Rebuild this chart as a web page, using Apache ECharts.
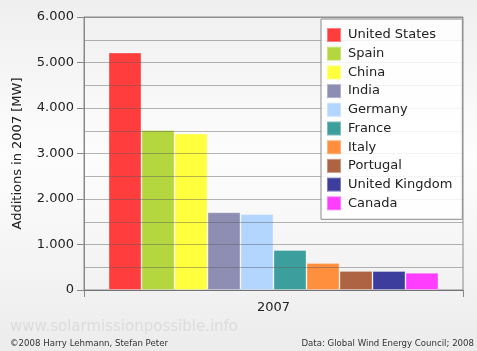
<!DOCTYPE html>
<html>
<head>
<meta charset="utf-8">
<script src="https://cdn.jsdelivr.net/npm/echarts@6/dist/echarts.min.js"></script>
<style>
html, body { margin: 0; padding: 0; }
#chart { width: 477px; height: 351px; }
</style>
</head>
<body>
<div id="chart"></div>
<script>
var years = ['2007'];
var countries = ['United States', 'Spain', 'China', 'India', 'Germany', 'France', 'Italy', 'Portugal', 'United Kingdom', 'Canada'];
var additions = [5220, 3515, 3440, 1710, 1670, 880, 595, 420, 418, 380];
var palette = ['#ff3333', '#b0d434', '#ffff33', '#8888b0', '#aed4ff', '#339999', '#ff8833', '#aa5c38', '#333399', '#ff33ff'];

var font = 'DejaVu Sans';
var chart = echarts.init(document.getElementById('chart'));

var series = [];
for (var i = 0; i < countries.length; i++) {
	series.push({
		name: countries[i],
		type: 'bar',
		barWidth: 33,
		barGap: '0%',
		itemStyle: {
			color: palette[i],
			opacity: 0.95,
			borderColor: 'rgba(255,255,255,0.35)',
			borderWidth: 1
		},
		data: [additions[i]]
	});
}

chart.setOption({
	animation: false,
	backgroundColor: {
		type: 'linear', x: 0, y: 0, x2: 0, y2: 1,
		colorStops: [
			{offset: 0, color: '#efefef'},
			{offset: 0.45, color: '#fdfdfd'},
			{offset: 1, color: '#ececec'}
		]
	},
	textStyle: {fontFamily: font},
	grid: {
		left: 84, right: 14, top: 17, bottom: 61,
		show: true,
		borderColor: '#8a8a8a',
		borderWidth: 1,
		backgroundColor: 'transparent'
	},
	legend: {
		orient: 'vertical',
		left: 321, top: 19,
		padding: [8, 10, 8, 5],
		itemWidth: 14, itemHeight: 14,
		itemGap: 2.7,
		backgroundColor: 'rgba(255,255,255,0.85)',
		borderColor: '#8a8a8a',
		borderWidth: 1,
		borderRadius: 0,
		icon: 'rect',
		textStyle: {fontFamily: font, fontSize: 13, color: '#222', padding: [0, 0, 0, 2]},
		data: countries
	},
	xAxis: {
		type: 'category',
		data: years,
		axisLine: {lineStyle: {color: '#888'}},
		axisTick: {show: true, length: 7, lineStyle: {color: '#888'}},
		axisLabel: {fontFamily: font, fontSize: 13, color: '#222', margin: 11}
	},
	yAxis: {
		type: 'value',
		min: 0, max: 6000, interval: 1000,
		z: 3,
		name: 'Additions in 2007 [MW]',
		nameLocation: 'middle',
		nameGap: 60,
		nameTextStyle: {fontFamily: font, fontSize: 13, color: '#222'},
		axisLine: {show: true, lineStyle: {color: '#888'}},
		axisTick: {show: true, length: 7, lineStyle: {color: '#888'}},
		axisLabel: {
			fontFamily: font, fontSize: 13, color: '#222', margin: 10,
			formatter: function (v) {
				if (v === 0) return '0';
				return String(v).replace(/\B(?=(\d{3})+(?!\d))/g, '.');
			}
		},
		splitLine: {show: true, lineStyle: {color: 'rgba(90,90,90,0.45)'}},
		minorTick: {show: false, splitNumber: 2},
		minorSplitLine: {show: true, lineStyle: {color: 'rgba(90,90,90,0.45)'}}
	},
	graphic: [
		{
			type: 'text', left: 10, top: 320,
			style: {text: 'www.solarmissionpossible.info', font: '15px DejaVu Sans', fill: '#dcdcdc'}
		},
		{
			type: 'text', left: 10, top: 339,
			style: {text: '\u00a92008 Harry Lehmann, Stefan Peter', font: '8.6px DejaVu Sans', fill: '#333'}
		},
		{
			type: 'text', right: 3, top: 339,
			style: {text: 'Data: Global Wind Energy Council; 2008', font: '8.6px DejaVu Sans', fill: '#333'}
		}
	],
	series: series
});
</script>
</body>
</html>
